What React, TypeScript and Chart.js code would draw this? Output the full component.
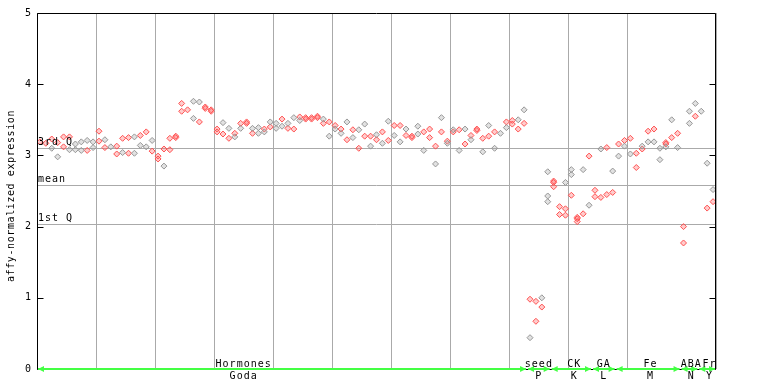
import { useEffect, useRef } from 'react';
import { Chart, registerables } from 'chart.js';

Chart.register(...registerables);

// ---- data ----
const sampleCount = 115;
const yTickValues = [0, 1, 2, 3, 4, 5];
const quartileNames = ['3rd Q', 'mean', '1st Q'];
const quartileValues = [3.1, 2.58, 2.04];
const groupNames = ['Hormones', 'seed', 'CK', 'GA', 'Fe', 'ABA', 'Fr'];
const groupCodes = ['Goda', 'P', 'K', 'L', 'M', 'N', 'Y'];
const groupStarts = [0, 83, 87, 94, 98, 109, 112];
const groupEnds = [83, 87, 94, 98, 109, 112, 115];
const groupLabelAt = [35, 85, 91, 96, 103.9, 110.8, 113.9];
const yTitle = 'affy-normalized expression';

// [sample index, value]
const redPoints: [number, number][] = [
  [0, 3.19], [1, 3.17], [2, 3.23], [3, 3.18], [4, 3.26], [4, 3.12], [5, 3.26],
  [8, 3.07], [10, 3.34], [10, 3.2], [11, 3.11], [13, 3.13], [13, 3.02], [14, 3.24],
  [15, 3.25], [15, 3.03], [17, 3.28], [18, 3.33], [19, 3.06], [20, 2.99], [20, 2.95],
  [21, 3.09], [22, 3.24], [22, 3.08], [23, 3.27], [23, 3.25], [24, 3.73], [24, 3.62],
  [25, 3.64], [27, 3.47], [28, 3.68], [28, 3.66], [29, 3.64], [29, 3.62], [30, 3.37],
  [30, 3.33], [31, 3.3], [32, 3.24], [33, 3.31], [34, 3.45], [35, 3.47], [35, 3.45],
  [36, 3.31], [38, 3.37], [39, 3.4], [41, 3.51], [42, 3.38], [43, 3.37], [44, 3.54],
  [45, 3.53], [45, 3.51], [46, 3.53], [46, 3.51], [47, 3.55], [47, 3.53], [48, 3.45],
  [49, 3.47], [50, 3.42], [51, 3.37], [52, 3.22], [53, 3.36], [54, 3.1], [55, 3.27],
  [56, 3.27], [57, 3.22], [58, 3.33], [59, 3.21], [60, 3.42], [61, 3.42], [62, 3.28],
  [63, 3.27], [63, 3.25], [65, 3.33], [66, 3.37], [66, 3.25], [67, 3.13], [68, 3.33],
  [69, 3.2], [70, 3.33], [71, 3.36], [72, 3.16], [73, 3.28], [74, 3.37], [74, 3.35],
  [75, 3.24], [76, 3.27], [77, 3.33], [79, 3.47], [80, 3.49], [80, 3.44], [81, 3.37],
  [82, 3.45], [83, 0.98], [84, 0.95], [84, 0.67], [85, 0.87], [87, 2.64], [87, 2.62],
  [87, 2.56], [88, 2.28], [88, 2.17], [89, 2.25], [89, 2.16], [90, 2.44], [91, 2.13],
  [91, 2.11], [91, 2.07], [92, 2.18], [93, 2.99], [94, 2.51], [94, 2.42], [95, 2.41],
  [96, 3.11], [96, 2.45], [97, 2.48], [98, 3.16], [99, 3.21], [100, 3.24], [101, 3.03],
  [101, 2.83], [102, 3.09], [103, 3.34], [104, 3.37], [106, 3.18], [106, 3.16],
  [107, 3.25], [108, 3.31], [109, 2.0], [109, 1.77], [111, 3.55], [113, 2.26], [114, 2.35],
];

const greyPoints: [number, number][] = [
  [2, 3.1], [3, 2.98], [5, 3.08], [6, 3.16], [6, 3.08], [7, 3.19], [7, 3.07], [8, 3.21],
  [9, 3.19], [9, 3.11], [11, 3.22], [12, 3.12], [14, 3.04], [16, 3.26], [16, 3.03],
  [17, 3.14], [18, 3.12], [19, 3.21], [21, 2.85], [26, 3.76], [26, 3.52], [27, 3.75],
  [31, 3.46], [32, 3.38], [33, 3.26], [34, 3.38], [36, 3.38], [37, 3.39], [37, 3.31],
  [38, 3.33], [39, 3.47], [40, 3.45], [40, 3.38], [41, 3.41], [42, 3.45], [43, 3.53],
  [44, 3.49], [48, 3.51], [49, 3.27], [50, 3.37], [51, 3.31], [52, 3.47], [53, 3.25],
  [54, 3.36], [55, 3.44], [56, 3.13], [57, 3.29], [58, 3.17], [59, 3.48], [60, 3.28],
  [61, 3.19], [62, 3.37], [64, 3.41], [64, 3.3], [65, 3.07], [67, 2.88], [68, 3.53],
  [69, 3.17], [70, 3.36], [71, 3.07], [72, 3.37], [73, 3.22], [75, 3.05], [76, 3.42],
  [77, 3.1], [78, 3.31], [79, 3.39], [81, 3.5], [82, 3.64], [83, 0.44], [85, 1.0],
  [86, 2.77], [86, 2.43], [86, 2.35], [89, 2.62], [90, 2.8], [90, 2.73], [92, 2.8],
  [93, 2.3], [95, 3.09], [97, 2.78], [98, 2.99], [99, 3.13], [100, 3.02], [102, 3.13],
  [103, 3.19], [104, 3.19], [105, 3.1], [105, 2.94], [106, 3.12], [107, 3.5], [108, 3.11],
  [110, 3.62], [110, 3.45], [111, 3.73], [112, 3.62], [113, 2.89], [114, 2.52],
];

const FONT = '"DejaVu Sans Mono", monospace';

const attedPlugin = {
  id: 'attedDecor',
  beforeDatasetsDraw(chart: any) {
    const { ctx, chartArea: a, scales } = chart;
    const y = scales.y;
    ctx.save();
    ctx.strokeStyle = '#aaaaaa';
    ctx.lineWidth = 1;
    quartileValues.forEach((v) => {
      const py = Math.round(y.getPixelForValue(v)) + 0.5;
      ctx.beginPath();
      ctx.moveTo(a.left, py);
      ctx.lineTo(a.right, py);
      ctx.stroke();
    });
    ctx.restore();
  },
  afterDatasetsDraw(chart: any) {
    const { ctx, chartArea: a, scales } = chart;
    const y = scales.y;
    ctx.save();
    ctx.fillStyle = '#000';
    ctx.font = `10px ${FONT}`;
    (ctx as any).letterSpacing = '1px';
    ctx.textAlign = 'left';
    ctx.textBaseline = 'alphabetic';
    quartileNames.forEach((n, i) => {
      const py = Math.round(y.getPixelForValue(quartileValues[i]));
      ctx.fillText(n, a.left + 1, py - 3);
    });
    ctx.restore();
  },
  afterDraw(chart: any) {
    const { ctx, chartArea: a, scales } = chart;
    const x = scales.x;
    const y = scales.y;
    const L = Math.round(a.left) + 0.5;
    const R = Math.round(a.right) - 0.5;
    const T = Math.round(a.top) + 0.5;
    const B = Math.round(a.bottom) + 0.5;
    ctx.save();
    // borders
    ctx.strokeStyle = '#000';
    ctx.lineWidth = 1;
    ctx.beginPath();
    ctx.moveTo(L, B);
    ctx.lineTo(L, T);
    ctx.lineTo(R, T);
    ctx.lineTo(R, B);
    ctx.lineTo(L, B);
    ctx.stroke();
    // inward ticks
    yTickValues.forEach((v) => {
      const py = Math.round(y.getPixelForValue(v)) + 0.5;
      ctx.beginPath();
      ctx.moveTo(L, py);
      ctx.lineTo(L + 6, py);
      ctx.moveTo(R, py);
      ctx.lineTo(R - 6, py);
      ctx.stroke();
    });
    // green group arrows
    ctx.strokeStyle = '#44ff44';
    ctx.fillStyle = '#44ff44';
    const gy = Math.round(a.bottom);
    groupStarts.forEach((s, i) => {
      const xs = x.getPixelForValue(s) + 1;
      const xe = x.getPixelForValue(groupEnds[i]) - 1;
      ctx.lineWidth = 2;
      ctx.beginPath();
      ctx.moveTo(xs, gy);
      ctx.lineTo(xe, gy);
      ctx.stroke();
      ctx.beginPath();
      ctx.moveTo(xs, gy);
      ctx.lineTo(xs + 6, gy - 3);
      ctx.lineTo(xs + 6, gy + 3);
      ctx.closePath();
      ctx.fill();
      ctx.beginPath();
      ctx.moveTo(xe, gy);
      ctx.lineTo(xe - 6, gy - 3);
      ctx.lineTo(xe - 6, gy + 3);
      ctx.closePath();
      ctx.fill();
    });
    // group labels
    ctx.fillStyle = '#000';
    ctx.font = `10px ${FONT}`;
    (ctx as any).letterSpacing = '1px';
    ctx.textAlign = 'center';
    ctx.textBaseline = 'alphabetic';
    groupNames.forEach((n, i) => {
      const px = x.getPixelForValue(groupLabelAt[i]);
      ctx.fillText(n, px, gy - 2);
      ctx.fillText(groupCodes[i], px, gy + 10);
    });
    // y title
    ctx.save();
    (ctx as any).letterSpacing = '0.6px';
    ctx.translate(11, (a.top + a.bottom) / 2 + 5);
    ctx.rotate(-Math.PI / 2);
    ctx.textAlign = 'center';
    ctx.textBaseline = 'middle';
    ctx.fillText(yTitle, 0, 0);
    ctx.restore();
    ctx.restore();
  },
};

function toXY(pts: [number, number][]) {
  return pts.map(([s, v]) => ({ x: s + 0.5, y: v }));
}

export default function App() {
  const ref = useRef<HTMLCanvasElement | null>(null);
  useEffect(() => {
    if (!ref.current) return;
    const chart = new Chart(ref.current, {
      type: 'scatter',
      data: {
        datasets: [
          {
            label: 'grey',
            data: toXY(greyPoints),
            pointStyle: 'rectRot',
            pointRadius: 3,
            borderWidth: 1,
            borderColor: 'rgb(150,150,150)',
            backgroundColor: 'rgba(170,170,170,0.35)',
          },
          {
            label: 'red',
            data: toXY(redPoints),
            pointStyle: 'rectRot',
            pointRadius: 3,
            borderWidth: 1,
            borderColor: 'rgb(255,80,80)',
            backgroundColor: 'rgba(255,110,110,0.35)',
          },
        ],
      },
      options: {
        responsive: false,
        animation: false,
        events: [],
        layout: { padding: { left: 0, right: 52, top: 13, bottom: 0 } },
        plugins: { legend: { display: false }, tooltip: { enabled: false } },
        scales: {
          x: {
            type: 'linear',
            min: 0,
            max: sampleCount,
            ticks: { display: false, stepSize: 10 },
            grid: { color: '#aaaaaa', drawTicks: false, tickLength: 0 },
            border: { display: false },
            afterFit: (s: any) => {
              s.height = 15;
            },
          },
          y: {
            min: 0,
            max: 5,
            ticks: {
              stepSize: 1,
              padding: 6,
              color: '#000',
              font: { family: FONT, size: 10 },
            },
            grid: { display: false, drawTicks: false, tickLength: 0 },
            border: { display: false },
            afterFit: (s: any) => {
              s.width = 37;
            },
          },
        },
      },
      plugins: [attedPlugin],
    });
    return () => chart.destroy();
  }, []);
  return (
    <div style={{ position: 'fixed', left: 0, top: 0, width: 768, height: 384, background: '#fff' }}>
      <canvas ref={ref} width={768} height={384} />
    </div>
  );
}
